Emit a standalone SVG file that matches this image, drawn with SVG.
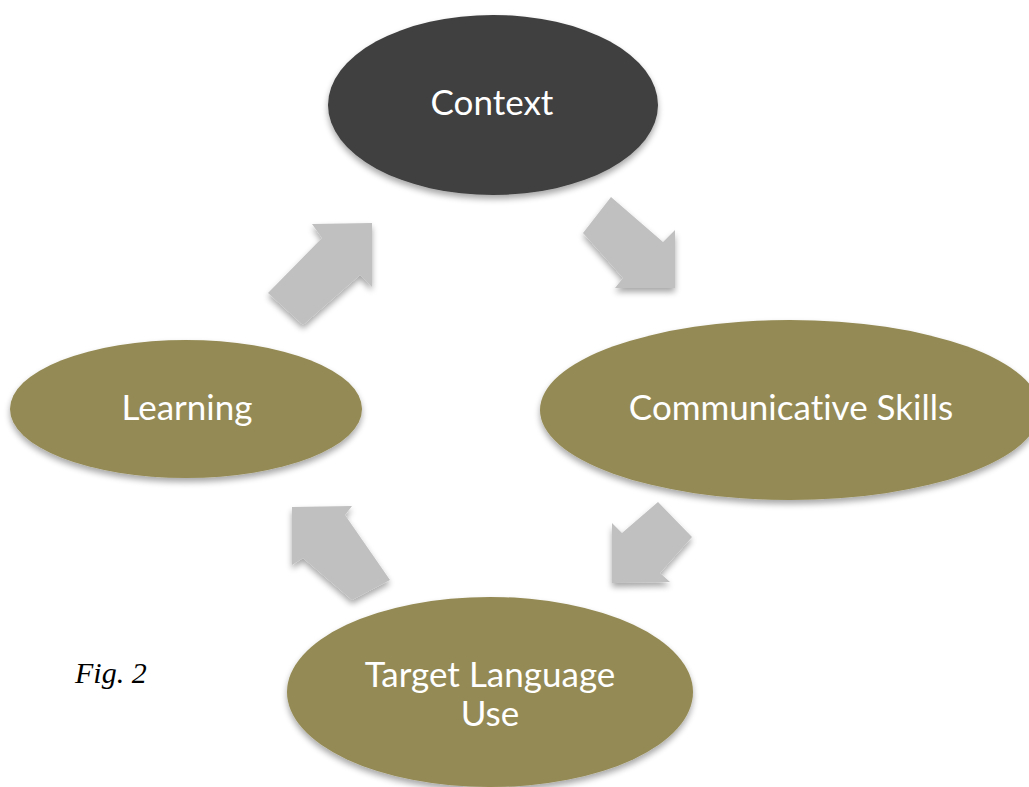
<svg xmlns="http://www.w3.org/2000/svg" width="1029" height="787" viewBox="0 0 1029 787">
<defs>
<filter id="sh" x="-20%" y="-20%" width="140%" height="150%">
<feGaussianBlur in="SourceAlpha" stdDeviation="3"/>
<feOffset dx="0" dy="4" result="b"/>
<feComponentTransfer><feFuncA type="linear" slope="0.35"/></feComponentTransfer>
<feMerge><feMergeNode/><feMergeNode in="SourceGraphic"/></feMerge>
</filter>
<style>
.arrow{fill:#c0c0c0;filter:url(#sh)}
.olive{fill:#948a54;filter:url(#sh)}
.dark{fill:#404040;filter:url(#sh)}
.lbl{fill:#ffffff;font-family:Lato,"Open Sans",sans-serif;font-size:35px;text-anchor:middle;font-variant-ligatures:none;font-feature-settings:"liga" 0,"dlig" 0,"clig" 0}
.fig{font-family:"Liberation Serif",serif;font-style:italic;font-size:30px;fill:#000}
</style>
</defs>
<rect width="1029" height="787" fill="#ffffff"/>
<g id="connectors">
<polygon class="arrow" points="611,197 663,242 675,230 675,288 615,288 623,278 583,233"/>
<polygon class="arrow" points="372,223 312,224 322,238 268,293 303,325 360,275 372,287"/>
<polygon class="arrow" points="658,502 692,537 660,573 670,582 612,583 612,523 622,533"/>
<polygon class="arrow" points="292,507 352,506 345,515 390,580 352,600 303,558 292,565"/>
</g>
<g id="node-context">
<ellipse class="dark" cx="493" cy="105" rx="165" ry="90"/>
<text class="lbl" x="492" y="115">Context</text>
</g>
<g id="node-communicative">
<ellipse class="olive" cx="790" cy="410" rx="250" ry="90"/>
<text class="lbl" x="791" y="420">Communicative Skills</text>
</g>
<g id="node-target">
<ellipse class="olive" cx="490" cy="692" rx="203" ry="95"/>
<text class="lbl" x="490" y="687">Target Language</text>
<text class="lbl" x="490" y="726">Use</text>
</g>
<g id="node-learning">
<ellipse class="olive" cx="186" cy="409" rx="176" ry="69"/>
<text class="lbl" x="187" y="420">Learning</text>
</g>
<text class="fig" x="75" y="683">Fig. 2</text>
</svg>
